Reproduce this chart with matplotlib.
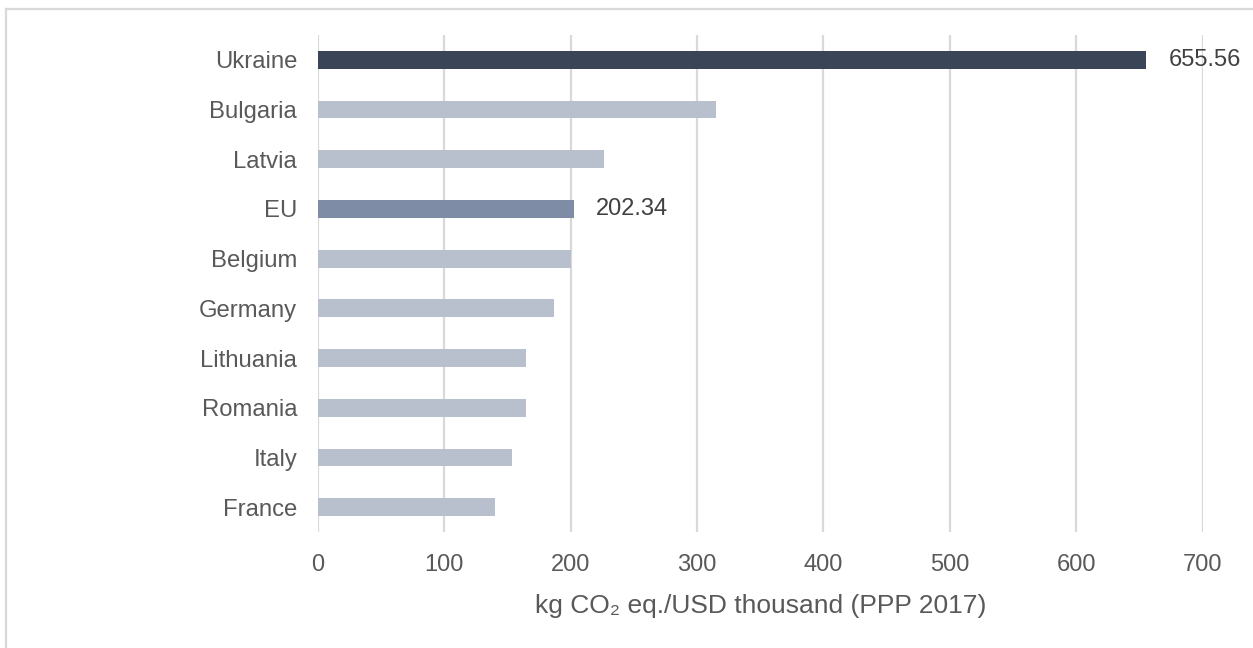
import matplotlib
matplotlib.use("Agg")
import matplotlib.pyplot as plt
from matplotlib.lines import Line2D

plt.rcParams['font.family'] = ['Liberation Sans', 'DejaVu Sans']

countries = ["Ukraine", "Bulgaria", "Latvia", "EU", "Belgium",
             "Germany", "Lithuania", "Romania", "Italy", "France"]
intensity = [655.56, 315.1, 226.7, 202.34, 200.3,
             187.1, 164.7, 164.4, 153.5, 140.0]
labelled = {"Ukraine": "655.56", "EU": "202.34"}
x_ticks = [0, 100, 200, 300, 400, 500, 600, 700]

bar_colors = {"Ukraine": "#3b4558", "EU": "#7f8ca6"}
default_color = "#b8c0ce"
text_color = "#595959"
grid_color = "#d9d9d9"

fig = plt.figure(figsize=(12.53, 6.48), dpi=100)
ax = fig.add_axes([318 / 1253, 1 - 532 / 648, (1202.5 - 318) / 1253, (532 - 35) / 648])

ypos = list(range(len(countries)))
colors = [bar_colors.get(c, default_color) for c in countries]
ax.barh(ypos, intensity, height=0.36, color=colors, zorder=3)

for y, c, v in zip(ypos, countries, intensity):
    if c in labelled:
        ax.annotate(labelled[c], (v, y), xytext=(16, 0), textcoords="offset points",
                    va="center", ha="left", fontsize=17, color="#404040")

ax.set_ylim(len(countries) - 0.5, -0.5)
ax.set_xlim(0, 700)
ax.set_xticks(x_ticks)
ax.set_yticks(ypos)
ax.set_yticklabels(countries)
ax.tick_params(axis="both", length=0, colors=text_color)
ax.tick_params(axis="y", pad=15, labelsize=17.2)
ax.tick_params(axis="x", pad=16, labelsize=17)
ax.xaxis.grid(True, color=grid_color, linewidth=1.6, zorder=0)
for s in ax.spines.values():
    s.set_visible(False)
ax.set_xlabel("kg CO₂ eq./USD thousand (PPP 2017)", fontsize=19, color=text_color, labelpad=13)

# light frame along the top and left edges
fig.add_artist(Line2D([6 / 1253, 1], [1 - 9 / 648, 1 - 9 / 648], color=grid_color, linewidth=1.6))
fig.add_artist(Line2D([6 / 1253, 6 / 1253], [0, 1 - 9 / 648], color=grid_color, linewidth=1.6))

fig.savefig("out.png", dpi=100, facecolor="white")
